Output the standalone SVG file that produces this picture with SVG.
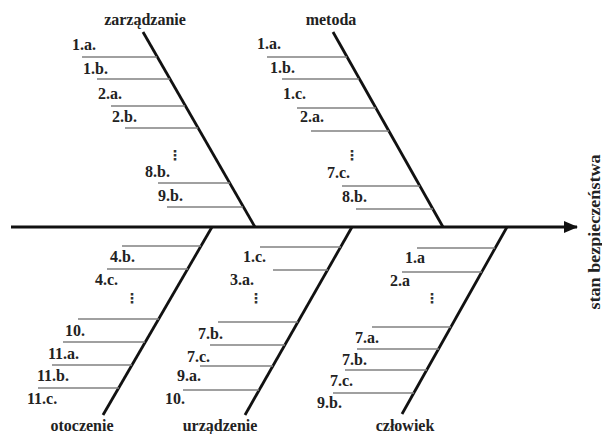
<svg xmlns="http://www.w3.org/2000/svg" width="602" height="434" viewBox="0 0 602 434">
<defs>
<marker id="arr" markerWidth="14" markerHeight="12" refX="13" refY="6" orient="auto" markerUnits="userSpaceOnUse">
<path d="M0,0 L14,6 L0,12 Z" fill="#111"/>
</marker>
</defs>
<style>
text{font-family:"Liberation Serif","Times New Roman",serif;font-weight:bold;font-size:16px;fill:#222}
.lbl{text-anchor:middle}
.dots{font-family:"DejaVu Sans",sans-serif;font-weight:bold;font-size:14px;fill:#333;text-anchor:middle}
.rib{stroke:#808080;stroke-width:1.6;fill:none}
.bone{stroke:#111;stroke-width:2.8;fill:none}
.spine{stroke:#111;stroke-width:3.2;fill:none}
</style>
<rect width="602" height="434" fill="#fff"/>
<g id="connectors">
<line class="spine" x1="11" y1="227" x2="577" y2="227" marker-end="url(#arr)"/>
<line class="bone" x1="143" y1="32" x2="255" y2="227"/>
<line class="bone" x1="333" y1="32" x2="443" y2="227"/>
<line class="bone" x1="212" y1="227" x2="103" y2="415"/>
<line class="bone" x1="352" y1="227" x2="245" y2="415"/>
<line class="bone" x1="507" y1="227" x2="402" y2="414"/>
</g>
<g id="zarzadzanie">
<text class="lbl" x="145" y="25">zarządzanie</text>
<line class="rib" x1="82" y1="57" x2="157" y2="57"/>
<line class="rib" x1="97" y1="79" x2="170" y2="79"/>
<line class="rib" x1="111" y1="106" x2="185" y2="106"/>
<line class="rib" x1="125" y1="128" x2="198" y2="128"/>
<line class="rib" x1="158" y1="183" x2="230" y2="183"/>
<line class="rib" x1="167" y1="207" x2="243" y2="207"/>
<text x="72" y="50">1.a.</text>
<text x="83" y="74">1.b.</text>
<text x="98" y="99">2.a.</text>
<text x="112" y="122">2.b.</text>
<text class="dots" x="175" y="160">⋮</text>
<text x="145" y="177">8.b.</text>
<text x="158" y="201">9.b.</text>
</g>
<g id="metoda">
<text class="lbl" x="331" y="25">metoda</text>
<line class="rib" x1="267" y1="57" x2="347" y2="57"/>
<line class="rib" x1="282" y1="79" x2="359" y2="79"/>
<line class="rib" x1="297" y1="108" x2="376" y2="108"/>
<line class="rib" x1="311" y1="131" x2="389" y2="131"/>
<line class="rib" x1="342" y1="186" x2="420" y2="186"/>
<line class="rib" x1="356" y1="209" x2="433" y2="209"/>
<text x="257" y="49">1.a.</text>
<text x="270" y="73">1.b.</text>
<text x="283" y="99">1.c.</text>
<text x="300" y="122">2.a.</text>
<text class="dots" x="352" y="160">⋮</text>
<text x="327" y="178">7.c.</text>
<text x="342" y="202">8.b.</text>
</g>
<g id="otoczenie">
<text class="lbl" x="82" y="431">otoczenie</text>
<line class="rib" x1="122" y1="246" x2="201" y2="246"/>
<line class="rib" x1="107" y1="269" x2="188" y2="269"/>
<line class="rib" x1="78" y1="319" x2="159" y2="319"/>
<line class="rib" x1="63" y1="342" x2="145" y2="342"/>
<line class="rib" x1="52" y1="365" x2="132" y2="365"/>
<line class="rib" x1="38" y1="388" x2="119" y2="388"/>
<text x="110" y="262">4.b.</text>
<text x="95" y="285">4.c.</text>
<text class="dots" x="132" y="303">⋮</text>
<text x="65" y="336">10.</text>
<text x="48" y="359">11.a.</text>
<text x="37" y="381">11.b.</text>
<text x="27" y="404">11.c.</text>
</g>
<g id="urzadzenie">
<text class="lbl" x="220" y="431">urządzenie</text>
<line class="rib" x1="260" y1="247" x2="341" y2="247"/>
<line class="rib" x1="273" y1="270" x2="328" y2="270"/>
<line class="rib" x1="218" y1="322" x2="298" y2="322"/>
<line class="rib" x1="210" y1="345" x2="285" y2="345"/>
<line class="rib" x1="200" y1="366" x2="273" y2="366"/>
<line class="rib" x1="183" y1="390" x2="259" y2="390"/>
<text x="243" y="262">1.c.</text>
<text x="230" y="285">3.a.</text>
<text class="dots" x="256" y="303">⋮</text>
<text x="198" y="339">7.b.</text>
<text x="187" y="362">7.c.</text>
<text x="177" y="381">9.a.</text>
<text x="165" y="404">10.</text>
</g>
<g id="czlowiek">
<text class="lbl" x="405" y="431">człowiek</text>
<line class="rib" x1="417" y1="248" x2="495" y2="248"/>
<line class="rib" x1="402" y1="272" x2="482" y2="272"/>
<line class="rib" x1="372" y1="327" x2="451" y2="327"/>
<line class="rib" x1="357" y1="349" x2="439" y2="349"/>
<line class="rib" x1="345" y1="370" x2="427" y2="370"/>
<line class="rib" x1="333" y1="393" x2="414" y2="393"/>
<text x="405" y="263">1.a</text>
<text x="390" y="286">2.a</text>
<text class="dots" x="432" y="303">⋮</text>
<text x="355" y="343">7.a.</text>
<text x="342" y="365">7.b.</text>
<text x="330" y="386">7.c.</text>
<text x="317" y="408">9.b.</text>
</g>
<g id="stan">
<text transform="translate(600,232) rotate(-90)" class="lbl" textLength="155" lengthAdjust="spacingAndGlyphs">stan bezpieczeństwa</text>
</g>
</svg>
